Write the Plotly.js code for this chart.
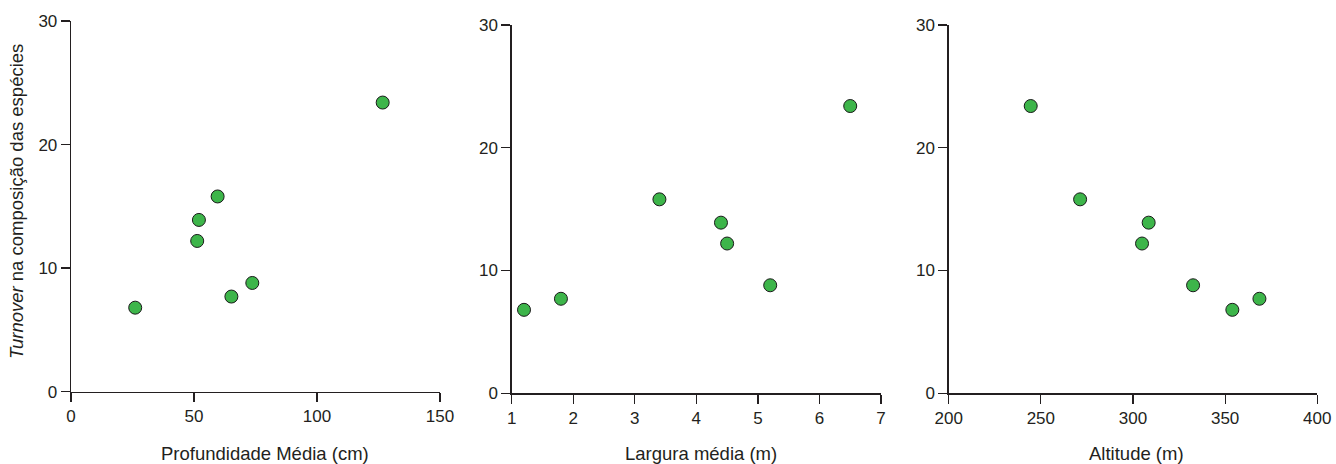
<!DOCTYPE html>
<html>
<head>
<meta charset="utf-8">
<script src="https://cdn.plot.ly/plotly-3.0.1.min.js"></script>
<style>
  html, body { margin: 0; padding: 0; background: #fff; }
  #chart { width: 1336px; height: 464px; }
</style>
</head>
<body>
<div id="chart"></div>
<script>
// Species turnover per site against three stream habitat variables
const turnover   = [23.4, 15.8, 13.9, 12.2, 8.8, 7.7, 6.8];
const depthCm    = [126.7, 59.6, 52.0, 51.3, 73.7, 65.2, 26.1];
const widthM     = [6.5, 3.4, 4.4, 4.5, 5.2, 1.8, 1.2];
const altitudeM  = [244.5, 271.3, 308.5, 304.9, 332.6, 368.6, 353.9];

const xTitles = ['Profundidade Média (cm)', 'Largura média (m)', 'Altitude (m)'];
const yTitle = '<i>Turnover</i> na composição das espécies';

const W = 1336, H = 464;
const FONT = '"Liberation Sans", Arial, Helvetica, sans-serif';
const INK = '#231f20';

const marker = {
  size: 13,
  color: '#3db54a',
  line: { color: '#1a1a1a', width: 1 }
};

function scatter(x, xa, ya) {
  return {
    type: 'scatter', mode: 'markers',
    x: x, y: turnover,
    xaxis: xa, yaxis: ya,
    marker: marker,
    hoverinfo: 'x+y'
  };
}

// plot boxes in pixels: [left, right, top, bottom]
const boxes = [
  [71, 440, 21, 391.7],
  [511.7, 881, 25, 393.3],
  [948.7, 1317.3, 25, 393.3]
];
const xRanges = [[0, 150], [1, 7], [200, 400]];
const xDticks = [50, 1, 50];

function xAxis(i) {
  const b = boxes[i];
  return {
    domain: [b[0] / W, b[1] / W],
    range: xRanges[i], dtick: xDticks[i], tick0: xRanges[i][0],
    anchor: i === 0 ? 'y' : 'y' + (i + 1),
    showgrid: false, zeroline: false,
    showline: true, linecolor: INK, linewidth: 1.3,
    ticks: 'outside', ticklen: 9, tickwidth: 1.3, tickcolor: INK,
    tickfont: { family: FONT, size: 17, color: INK },
    fixedrange: true
  };
}
function yAxis(i) {
  const b = boxes[i];
  return {
    domain: [(H - b[3]) / H, (H - b[2]) / H],
    range: [0, 30], dtick: 10, tick0: 0,
    anchor: i === 0 ? 'x' : 'x' + (i + 1),
    showgrid: false, zeroline: false,
    showline: true, linecolor: INK, linewidth: 1.3,
    ticks: 'outside', ticklen: 9, tickwidth: 1.3, tickcolor: INK,
    tickfont: { family: FONT, size: 17, color: INK },
    fixedrange: true
  };
}

const data = [
  scatter(depthCm, 'x', 'y'),
  scatter(widthM, 'x2', 'y2'),
  scatter(altitudeM, 'x3', 'y3')
];

const titleCenters = [265, 700.7, 1136.7];
const annotations = titleCenters.map((cx, i) => ({
  text: xTitles[i], xref: 'paper', yref: 'paper',
  x: cx / W, y: (H - 453) / H, xanchor: 'center', yanchor: 'middle',
  showarrow: false, font: { family: FONT, size: 18.5, color: INK }
}));
annotations.push({
  text: yTitle, xref: 'paper', yref: 'paper',
  x: 17 / W, y: (H - 202) / H, xanchor: 'center', yanchor: 'middle',
  textangle: -90, showarrow: false,
  font: { family: FONT, size: 18.5, color: INK }
});

const layout = {
  width: W, height: H,
  margin: { l: 0, r: 0, t: 0, b: 0 },
  paper_bgcolor: '#fff', plot_bgcolor: '#fff',
  showlegend: false,
  xaxis: xAxis(0), yaxis: yAxis(0),
  xaxis2: xAxis(1), yaxis2: yAxis(1),
  xaxis3: xAxis(2), yaxis3: yAxis(2),
  annotations: annotations,
  font: { family: FONT, color: INK }
};

Plotly.newPlot('chart', data, layout, { displayModeBar: false, staticPlot: true });
</script>
</body>
</html>
